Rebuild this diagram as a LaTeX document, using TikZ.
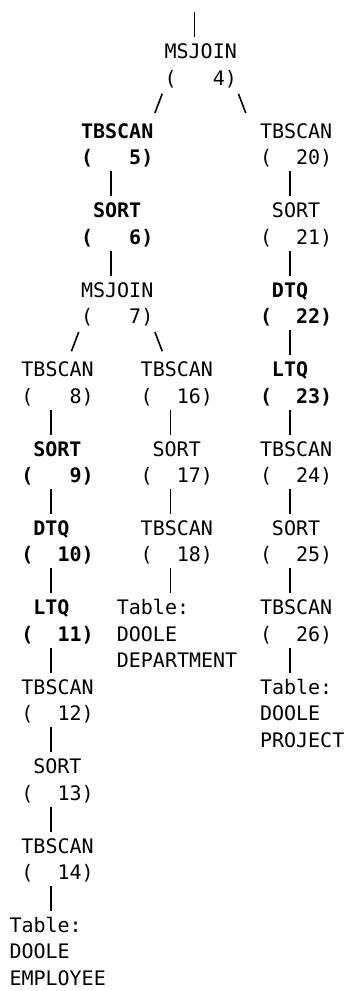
\documentclass[tikz,border=0pt]{standalone}
\usepackage{fontspec}
\newfontfamily\dmono{DejaVu Sans Mono}
\newcommand\X[1]{9.5+(#1)*11.93}
\newcommand\Y[1]{958.5-(#1)*26.47}
\def\cw{11.93pt}
\begin{document}
\begin{tikzpicture}[x=1pt,y=1pt,
  op/.style={anchor=base west, inner sep=0pt, outer sep=0pt, text height=21.5pt, text depth=6.5pt, font=\dmono\fontsize{20}{24}\selectfont},
  opb/.style={op, font=\dmono\bfseries\fontsize{20}{24}\selectfont},
  tabline/.style={op, text height=16pt, text depth=1pt},
  bar/.style={line width=1.6pt}]
\fill[white] (0,0) rectangle (345,991);
\useasboundingbox (0,0) rectangle (345,991);
% top join
\node[op]  (m4)  at ({\X{13}},{\Y{1}}) {MSJOIN};
\node[op]  (m4n) at ({\X{13}},{\Y{2}}) {(~~~4)};
% left branch
\node[opb] (t5)  at ({\X{6}},{\Y{4}}) {TBSCAN};
\node[opb] (t5n) at ({\X{6}},{\Y{5}}) {(~~~5)};
\node[opb] (s6)  at ({\X{7}},{\Y{7}}) {SORT};
\node[opb] (s6n) at ({\X{6}},{\Y{8}}) {(~~~6)};
\node[op]  (m7)  at ({\X{6}},{\Y{10}}) {MSJOIN};
\node[op]  (m7n) at ({\X{6}},{\Y{11}}) {(~~~7)};
\node[op]  (t8)  at ({\X{1}},{\Y{13}}) {TBSCAN};
\node[op]  (t8n) at ({\X{1}},{\Y{14}}) {(~~~8)};
\node[opb] (s9)  at ({\X{2}},{\Y{16}}) {SORT};
\node[opb] (s9n) at ({\X{1}},{\Y{17}}) {(~~~9)};
\node[opb] (d10) at ({\X{2}},{\Y{19}}) {DTQ};
\node[opb] (d10n) at ({\X{1}},{\Y{20}}) {(~~10)};
\node[opb] (l11) at ({\X{2}},{\Y{22}}) {LTQ};
\node[opb] (l11n) at ({\X{1}},{\Y{23}}) {(~~11)};
\node[op]  (t12) at ({\X{1}},{\Y{25}}) {TBSCAN};
\node[op]  (t12n) at ({\X{1}},{\Y{26}}) {(~~12)};
\node[op]  (s13) at ({\X{2}},{\Y{28}}) {SORT};
\node[op]  (s13n) at ({\X{1}},{\Y{29}}) {(~~13)};
\node[op]  (t14) at ({\X{1}},{\Y{31}}) {TBSCAN};
\node[op]  (t14n) at ({\X{1}},{\Y{32}}) {(~~14)};
\node[op]  (tabE)  at ({\X{0}},{\Y{34}}) {Table:};
\node[tabline] (tabE2) at ({\X{0}},{\Y{35}}) {DOOLE};
\node[tabline] (tabE3) at ({\X{0}},{\Y{36}}) {EMPLOYEE};
% middle branch
\node[op]  (t16) at ({\X{11}},{\Y{13}}) {TBSCAN};
\node[op]  (t16n) at ({\X{11}},{\Y{14}}) {(~~16)};
\node[op]  (s17) at ({\X{12}},{\Y{16}}) {SORT};
\node[op]  (s17n) at ({\X{11}},{\Y{17}}) {(~~17)};
\node[op]  (t18) at ({\X{11}},{\Y{19}}) {TBSCAN};
\node[op]  (t18n) at ({\X{11}},{\Y{20}}) {(~~18)};
\node[op]  (tabD)  at ({\X{9}},{\Y{22}}) {Table:};
\node[tabline] (tabD2) at ({\X{9}},{\Y{23}}) {DOOLE};
\node[tabline] (tabD3) at ({\X{9}},{\Y{24}}) {DEPARTMENT};
% right branch
\node[op]  (t20) at ({\X{21}},{\Y{4}}) {TBSCAN};
\node[op]  (t20n) at ({\X{21}},{\Y{5}}) {(~~20)};
\node[op]  (s21) at ({\X{22}},{\Y{7}}) {SORT};
\node[op]  (s21n) at ({\X{21}},{\Y{8}}) {(~~21)};
\node[opb] (d22) at ({\X{22}},{\Y{10}}) {DTQ};
\node[opb] (d22n) at ({\X{21}},{\Y{11}}) {(~~22)};
\node[opb] (l23) at ({\X{22}},{\Y{13}}) {LTQ};
\node[opb] (l23n) at ({\X{21}},{\Y{14}}) {(~~23)};
\node[op]  (t24) at ({\X{21}},{\Y{16}}) {TBSCAN};
\node[op]  (t24n) at ({\X{21}},{\Y{17}}) {(~~24)};
\node[op]  (s25) at ({\X{22}},{\Y{19}}) {SORT};
\node[op]  (s25n) at ({\X{21}},{\Y{20}}) {(~~25)};
\node[op]  (t26) at ({\X{21}},{\Y{22}}) {TBSCAN};
\node[op]  (t26n) at ({\X{21}},{\Y{23}}) {(~~26)};
\node[op]  (tabP)  at ({\X{21}},{\Y{25}}) {Table:};
\node[tabline] (tabP2) at ({\X{21}},{\Y{26}}) {DOOLE};
\node[tabline] (tabP3) at ({\X{21}},{\Y{27}}) {PROJECT};
% connectors
\coordinate (top) at ({\X{15.5}},979.3);
\draw[bar] (top) -- ([xshift=2.5*\cw]m4.north west);
\draw[bar] ([shift={(-2.37pt,-1.85pt)}]m4n.south west) -- ([shift={(73.85pt,3.85pt)}]t5.north west);
\draw[bar] ([shift={(73.85pt,-1.85pt)}]m4n.south west) -- ([shift={(-14.3pt,3.85pt)}]t20.north west);
\draw[bar] ([shift={(-2.37pt,-1.85pt)}]m7n.south west) -- ([shift={(49.99pt,3.85pt)}]t8.north west);
\draw[bar] ([shift={(73.85pt,-1.85pt)}]m7n.south west) -- ([shift={(21.5pt,3.85pt)}]t16.north west);
\draw[bar] ([xshift=2.5*\cw]t5n.south west) -- ([xshift=1.5*\cw]s6.north west);
\draw[bar] ([xshift=2.5*\cw]s6n.south west) -- ([xshift=2.5*\cw]m7.north west);
\draw[bar] ([xshift=2.5*\cw]t8n.south west) -- ([xshift=1.5*\cw]s9.north west);
\draw[bar] ([xshift=2.5*\cw]s9n.south west) -- ([xshift=1.5*\cw]d10.north west);
\draw[bar] ([xshift=2.5*\cw]d10n.south west) -- ([xshift=1.5*\cw]l11.north west);
\draw[bar] ([xshift=2.5*\cw]l11n.south west) -- ([xshift=2.5*\cw]t12.north west);
\draw[bar] ([xshift=2.5*\cw]t12n.south west) -- ([xshift=1.5*\cw]s13.north west);
\draw[bar] ([xshift=2.5*\cw]s13n.south west) -- ([xshift=2.5*\cw]t14.north west);
\draw[bar] ([xshift=2.5*\cw]t14n.south west) -- ([xshift=3.5*\cw]tabE.north west);
\draw[bar] ([xshift=2.5*\cw]t16n.south west) -- ([xshift=1.5*\cw]s17.north west);
\draw[bar] ([xshift=2.5*\cw]s17n.south west) -- ([xshift=2.5*\cw]t18.north west);
\draw[bar] ([xshift=2.5*\cw]t18n.south west) -- ([xshift=4.5*\cw]tabD.north west);
\draw[bar] ([xshift=2.5*\cw]t20n.south west) -- ([xshift=1.5*\cw]s21.north west);
\draw[bar] ([xshift=2.5*\cw]s21n.south west) -- ([xshift=1.5*\cw]d22.north west);
\draw[bar] ([xshift=2.5*\cw]d22n.south west) -- ([xshift=1.5*\cw]l23.north west);
\draw[bar] ([xshift=2.5*\cw]l23n.south west) -- ([xshift=2.5*\cw]t24.north west);
\draw[bar] ([xshift=2.5*\cw]t24n.south west) -- ([xshift=1.5*\cw]s25.north west);
\draw[bar] ([xshift=2.5*\cw]s25n.south west) -- ([xshift=2.5*\cw]t26.north west);
\draw[bar] ([xshift=2.5*\cw]t26n.south west) -- ([xshift=2.5*\cw]tabP.north west);
\end{tikzpicture}
\end{document}
